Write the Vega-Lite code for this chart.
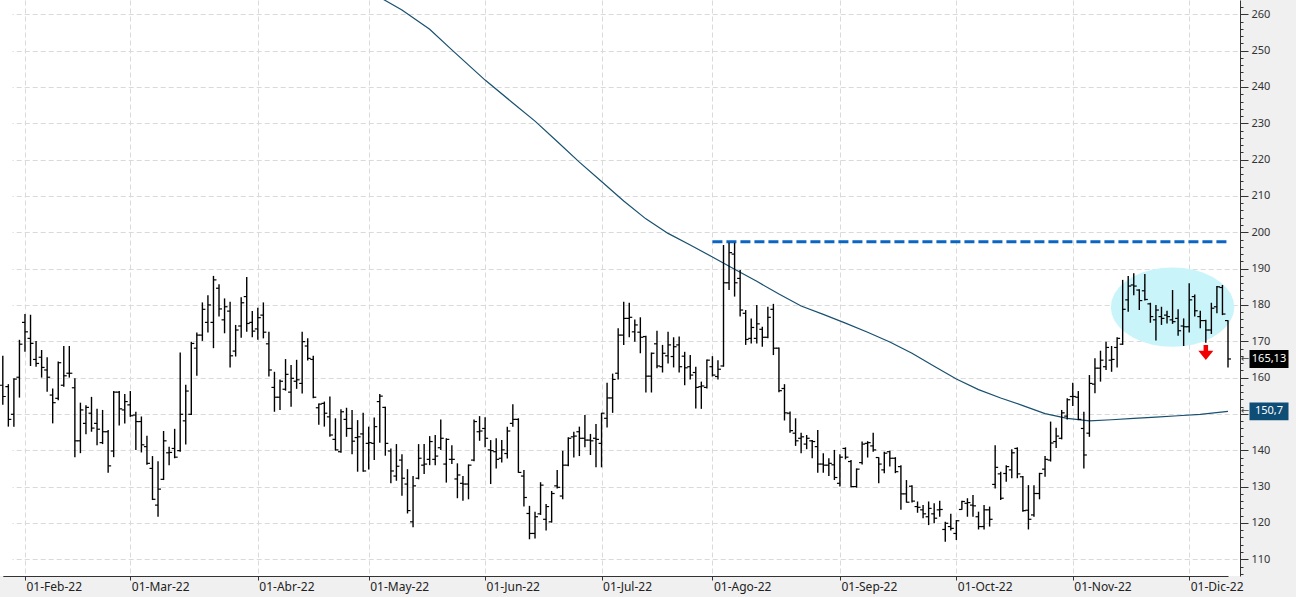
{
"$schema": "https://vega.github.io/schema/vega-lite/v6.json",
"width": 1240, "height": 576,
"autosize": {"type": "none"},
"padding": {"left": 0, "top": 0, "right": 56, "bottom": 21},
"background": "#F0F0F0",
"config": {"view": {"fill": "#FFFFFF", "stroke": null}, "font": "Noto Sans"},
"resolve": {"axis": {"y": "independent"}},
"datasets": {
"ohlc": [
{"date":"2022-01-26","open":157.9,"high":166.0,"low":152.5,"close":154.8},
{"date":"2022-01-27","open":157.5,"high":158.2,"low":146.5,"close":148.5},
{"date":"2022-01-28","open":149.9,"high":159.8,"low":146.5,"close":159.6},
{"date":"2022-01-31","open":160.1,"high":170.4,"low":154.5,"close":169.2},
{"date":"2022-02-01","open":175.2,"high":177.5,"low":167.1,"close":172.6},
{"date":"2022-02-02","open":170.8,"high":177.3,"low":163.2,"close":169.4},
{"date":"2022-02-03","open":165.0,"high":170.1,"low":163.0,"close":163.9},
{"date":"2022-02-04","open":165.6,"high":167.6,"low":160.0,"close":162.8},
{"date":"2022-02-07","open":162.1,"high":165.6,"low":156.1,"close":160.1},
{"date":"2022-02-08","open":155.2,"high":157.0,"low":147.4,"close":153.1},
{"date":"2022-02-09","open":154.3,"high":164.4,"low":153.8,"close":164.1},
{"date":"2022-02-10","open":157.9,"high":168.7,"low":157.5,"close":160.5},
{"date":"2022-02-11","open":161.2,"high":168.7,"low":160.0,"close":161.2},
{"date":"2022-02-14","open":157.2,"high":159.8,"low":138.1,"close":142.6},
{"date":"2022-02-15","open":142.6,"high":153.1,"low":139.2,"close":151.1},
{"date":"2022-02-16","open":147.4,"high":152.4,"low":144.4,"close":151.8},
{"date":"2022-02-17","open":150.2,"high":154.7,"low":145.1,"close":146.1},
{"date":"2022-02-18","open":147.4,"high":151.4,"low":141.4,"close":145.8},
{"date":"2022-02-22","open":142.1,"high":151.1,"low":141.7,"close":145.1},
{"date":"2022-02-23","open":145.1,"high":145.6,"low":133.8,"close":135.7},
{"date":"2022-02-24","open":139.8,"high":156.3,"low":138.1,"close":156.0},
{"date":"2022-02-25","open":156.0,"high":156.3,"low":146.8,"close":151.4},
{"date":"2022-02-28","open":151.1,"high":155.5,"low":147.4,"close":153.4},
{"date":"2022-03-01","open":152.5,"high":156.3,"low":149.2,"close":149.5},
{"date":"2022-03-02","open":149.7,"high":150.6,"low":140.1,"close":147.9},
{"date":"2022-03-03","open":147.9,"high":149.3,"low":139.4,"close":141.5},
{"date":"2022-03-04","open":141.0,"high":144.0,"low":136.0,"close":136.4},
{"date":"2022-03-07","open":135.0,"high":138.4,"low":126.3,"close":126.5},
{"date":"2022-03-08","open":124.9,"high":137.0,"low":121.7,"close":129.3},
{"date":"2022-03-09","open":132.0,"high":145.3,"low":131.8,"close":142.6},
{"date":"2022-03-10","open":139.3,"high":141.0,"low":135.9,"close":139.4},
{"date":"2022-03-11","open":140.5,"high":145.9,"low":137.8,"close":138.1},
{"date":"2022-03-14","open":139.9,"high":166.9,"low":139.6,"close":149.9},
{"date":"2022-03-15","open":148.1,"high":158.0,"low":141.6,"close":156.3},
{"date":"2022-03-16","open":149.9,"high":169.9,"low":149.7,"close":169.4},
{"date":"2022-03-17","open":168.1,"high":172.4,"low":160.5,"close":171.7},
{"date":"2022-03-18","open":171.7,"high":180.7,"low":170.1,"close":178.8},
{"date":"2022-03-21","open":175.2,"high":182.7,"low":172.4,"close":180.0},
{"date":"2022-03-22","open":175.2,"high":188.0,"low":168.1,"close":186.9},
{"date":"2022-03-23","open":184.6,"high":185.7,"low":176.8,"close":178.9},
{"date":"2022-03-24","open":175.9,"high":181.8,"low":172.2,"close":179.5},
{"date":"2022-03-25","open":178.3,"high":180.9,"low":162.8,"close":166.0},
{"date":"2022-03-28","open":167.3,"high":174.5,"low":165.8,"close":173.1},
{"date":"2022-03-29","open":174.2,"high":182.1,"low":171.0,"close":180.6},
{"date":"2022-03-30","open":182.3,"high":187.7,"low":172.6,"close":174.9},
{"date":"2022-03-31","open":175.2,"high":178.3,"low":171.1,"close":172.8},
{"date":"2022-04-01","open":173.4,"high":179.2,"low":170.4,"close":176.5},
{"date":"2022-04-04","open":177.2,"high":180.7,"low":170.8,"close":172.5},
{"date":"2022-04-05","open":169.3,"high":172.6,"low":160.3,"close":162.1},
{"date":"2022-04-06","open":157.3,"high":161.6,"low":150.6,"close":154.6},
{"date":"2022-04-07","open":154.6,"high":159.5,"low":151.1,"close":159.0},
{"date":"2022-04-08","open":156.8,"high":165.1,"low":156.4,"close":160.9},
{"date":"2022-04-11","open":156.0,"high":163.5,"low":152.0,"close":159.8},
{"date":"2022-04-12","open":159.0,"high":164.9,"low":156.9,"close":159.4},
{"date":"2022-04-13","open":158.4,"high":172.6,"low":155.6,"close":169.9},
{"date":"2022-04-14","open":168.7,"high":170.8,"low":164.7,"close":165.3},
{"date":"2022-04-18","open":165.0,"high":166.0,"low":154.3,"close":154.6},
{"date":"2022-04-19","open":151.7,"high":152.9,"low":147.0,"close":152.7},
{"date":"2022-04-20","open":152.9,"high":153.4,"low":146.5,"close":150.2},
{"date":"2022-04-21","open":149.2,"high":154.8,"low":143.7,"close":144.2},
{"date":"2022-04-22","open":143.0,"high":148.8,"low":139.9,"close":140.1},
{"date":"2022-04-25","open":139.6,"high":151.3,"low":139.3,"close":150.6},
{"date":"2022-04-26","open":148.5,"high":151.7,"low":143.7,"close":146.0},
{"date":"2022-04-27","open":146.0,"high":151.1,"low":138.9,"close":142.5},
{"date":"2022-04-28","open":143.5,"high":148.3,"low":134.1,"close":143.7},
{"date":"2022-04-29","open":144.5,"high":150.3,"low":134.1,"close":134.3},
{"date":"2022-05-02","open":141.9,"high":146.5,"low":134.7,"close":142.1},
{"date":"2022-05-03","open":141.9,"high":149.0,"low":137.3,"close":146.5},
{"date":"2022-05-04","open":153.4,"high":155.5,"low":142.1,"close":154.9},
{"date":"2022-05-05","open":151.8,"high":152.0,"low":138.5,"close":141.9},
{"date":"2022-05-06","open":139.8,"high":140.5,"low":130.9,"close":134.3},
{"date":"2022-05-09","open":132.9,"high":141.7,"low":131.6,"close":135.6},
{"date":"2022-05-10","open":137.3,"high":138.9,"low":127.5,"close":132.3},
{"date":"2022-05-11","open":130.7,"high":134.8,"low":122.6,"close":123.4},
{"date":"2022-05-12","open":120.3,"high":132.9,"low":118.8,"close":130.2},
{"date":"2022-05-13","open":132.3,"high":141.7,"low":132.0,"close":137.8},
{"date":"2022-05-16","open":135.9,"high":141.7,"low":133.5,"close":136.2},
{"date":"2022-05-17","open":137.5,"high":143.9,"low":135.9,"close":142.4},
{"date":"2022-05-18","open":137.5,"high":144.2,"low":135.9,"close":138.4},
{"date":"2022-05-19","open":140.7,"high":148.5,"low":140.1,"close":143.3},
{"date":"2022-05-20","open":136.2,"high":143.3,"low":131.1,"close":143.0},
{"date":"2022-05-23","open":137.5,"high":141.4,"low":136.2,"close":137.5},
{"date":"2022-05-24","open":132.1,"high":136.4,"low":126.8,"close":133.2},
{"date":"2022-05-25","open":130.9,"high":132.9,"low":126.1,"close":130.7},
{"date":"2022-05-26","open":130.7,"high":136.1,"low":126.5,"close":135.9},
{"date":"2022-05-27","open":137.3,"high":148.5,"low":137.0,"close":147.9},
{"date":"2022-05-31","open":145.1,"high":149.4,"low":142.6,"close":145.3},
{"date":"2022-06-01","open":146.0,"high":149.1,"low":140.8,"close":143.3},
{"date":"2022-06-02","open":140.1,"high":142.8,"low":130.7,"close":139.9},
{"date":"2022-06-03","open":139.6,"high":143.3,"low":135.0,"close":137.5},
{"date":"2022-06-06","open":137.8,"high":142.8,"low":136.6,"close":140.1},
{"date":"2022-06-07","open":139.1,"high":146.5,"low":137.7,"close":145.3},
{"date":"2022-06-08","open":147.4,"high":152.7,"low":146.5,"close":148.5},
{"date":"2022-06-09","open":148.5,"high":148.8,"low":133.8,"close":133.9},
{"date":"2022-06-10","open":132.9,"high":134.6,"low":124.5,"close":127.0},
{"date":"2022-06-13","open":122.6,"high":124.7,"low":115.5,"close":117.1},
{"date":"2022-06-14","open":117.1,"high":123.1,"low":115.7,"close":121.7},
{"date":"2022-06-15","open":122.5,"high":131.2,"low":122.2,"close":130.4},
{"date":"2022-06-16","open":121.0,"high":125.2,"low":117.9,"close":124.5},
{"date":"2022-06-17","open":120.3,"high":128.8,"low":120.1,"close":128.1},
{"date":"2022-06-21","open":130.2,"high":134.6,"low":129.5,"close":129.8},
{"date":"2022-06-22","open":127.4,"high":139.9,"low":126.5,"close":135.9},
{"date":"2022-06-23","open":135.9,"high":143.6,"low":135.6,"close":143.3},
{"date":"2022-06-24","open":143.7,"high":145.1,"low":138.0,"close":143.9},
{"date":"2022-06-27","open":145.1,"high":146.5,"low":138.4,"close":143.3},
{"date":"2022-06-28","open":143.3,"high":149.7,"low":140.8,"close":142.8},
{"date":"2022-06-29","open":142.8,"high":144.5,"low":138.7,"close":142.6},
{"date":"2022-06-30","open":143.3,"high":147.2,"low":135.3,"close":143.0},
{"date":"2022-07-01","open":141.9,"high":150.3,"low":135.3,"close":150.2},
{"date":"2022-07-05","open":148.8,"high":158.6,"low":146.3,"close":154.4},
{"date":"2022-07-06","open":154.4,"high":161.1,"low":150.3,"close":159.5},
{"date":"2022-07-07","open":161.2,"high":173.6,"low":159.5,"close":171.7},
{"date":"2022-07-08","open":171.7,"high":180.9,"low":169.0,"close":176.3},
{"date":"2022-07-11","open":176.3,"high":180.6,"low":171.1,"close":176.6},
{"date":"2022-07-12","open":172.6,"high":176.0,"low":169.9,"close":174.5},
{"date":"2022-07-13","open":172.5,"high":176.6,"low":166.7,"close":171.1},
{"date":"2022-07-14","open":171.3,"high":171.5,"low":155.9,"close":160.4},
{"date":"2022-07-15","open":160.4,"high":166.9,"low":155.9,"close":166.7},
{"date":"2022-07-18","open":169.3,"high":172.9,"low":162.6,"close":163.2},
{"date":"2022-07-19","open":163.0,"high":169.0,"low":161.4,"close":166.7},
{"date":"2022-07-20","open":166.0,"high":172.6,"low":163.9,"close":169.0},
{"date":"2022-07-21","open":165.8,"high":171.1,"low":162.8,"close":168.5},
{"date":"2022-07-22","open":169.0,"high":171.3,"low":161.4,"close":163.0},
{"date":"2022-07-25","open":165.9,"high":167.1,"low":157.9,"close":162.7},
{"date":"2022-07-26","open":163.0,"high":166.2,"low":159.5,"close":160.7},
{"date":"2022-07-27","open":161.4,"high":163.0,"low":151.5,"close":157.3},
{"date":"2022-07-28","open":157.5,"high":158.9,"low":151.4,"close":157.7},
{"date":"2022-07-29","open":157.3,"high":165.0,"low":157.0,"close":164.8},
{"date":"2022-08-01","open":163.0,"high":165.9,"low":160.3,"close":160.7},
{"date":"2022-08-02","open":160.3,"high":164.8,"low":159.5,"close":162.3},
{"date":"2022-08-03","open":163.2,"high":196.5,"low":163.0,"close":186.1},
{"date":"2022-08-04","open":186.1,"high":197.1,"low":184.1,"close":194.4},
{"date":"2022-08-05","open":194.0,"high":197.1,"low":182.3,"close":186.1},
{"date":"2022-08-08","open":187.3,"high":189.6,"low":176.8,"close":178.6},
{"date":"2022-08-09","open":177.7,"high":178.6,"low":169.0,"close":170.5},
{"date":"2022-08-10","open":170.8,"high":176.3,"low":169.4,"close":173.8},
{"date":"2022-08-11","open":170.8,"high":180.0,"low":169.4,"close":174.8},
{"date":"2022-08-12","open":173.3,"high":174.0,"low":168.5,"close":171.1},
{"date":"2022-08-15","open":171.1,"high":179.5,"low":170.8,"close":176.6},
{"date":"2022-08-16","open":178.8,"high":180.3,"low":166.2,"close":168.1},
{"date":"2022-08-17","open":168.1,"high":168.3,"low":156.0,"close":156.4},
{"date":"2022-08-18","open":157.0,"high":158.2,"low":148.2,"close":150.3},
{"date":"2022-08-19","open":150.2,"high":150.7,"low":144.8,"close":145.4},
{"date":"2022-08-22","open":144.7,"high":148.8,"low":141.2,"close":142.6},
{"date":"2022-08-23","open":143.3,"high":144.8,"low":139.2,"close":143.7},
{"date":"2022-08-24","open":141.7,"high":144.2,"low":140.3,"close":143.3},
{"date":"2022-08-25","open":142.6,"high":142.8,"low":137.8,"close":142.4},
{"date":"2022-08-26","open":141.0,"high":145.6,"low":133.8,"close":136.2},
{"date":"2022-08-29","open":136.2,"high":139.2,"low":133.8,"close":135.9},
{"date":"2022-08-30","open":135.9,"high":137.8,"low":132.9,"close":136.4},
{"date":"2022-08-31","open":136.0,"high":140.1,"low":131.8,"close":132.5},
{"date":"2022-09-01","open":130.9,"high":138.9,"low":130.0,"close":138.1},
{"date":"2022-09-02","open":140.5,"high":140.8,"low":137.5,"close":138.1},
{"date":"2022-09-06","open":136.9,"high":137.3,"low":129.8,"close":130.0},
{"date":"2022-09-07","open":130.0,"high":135.0,"low":129.7,"close":134.8},
{"date":"2022-09-08","open":136.6,"high":142.4,"low":136.1,"close":141.7},
{"date":"2022-09-09","open":141.9,"high":142.5,"low":138.0,"close":142.1},
{"date":"2022-09-12","open":141.2,"high":144.8,"low":139.6,"close":140.1},
{"date":"2022-09-13","open":138.0,"high":138.1,"low":130.9,"close":136.2},
{"date":"2022-09-14","open":134.6,"high":139.6,"low":133.7,"close":139.2},
{"date":"2022-09-15","open":139.6,"high":139.9,"low":135.5,"close":137.8},
{"date":"2022-09-16","open":137.8,"high":138.1,"low":133.7,"close":134.1},
{"date":"2022-09-19","open":135.5,"high":135.9,"low":123.6,"close":128.0},
{"date":"2022-09-20","open":128.0,"high":131.8,"low":125.6,"close":125.7},
{"date":"2022-09-21","open":130.1,"high":130.4,"low":125.6,"close":126.0},
{"date":"2022-09-22","open":124.5,"high":125.9,"low":122.8,"close":124.3},
{"date":"2022-09-23","open":123.6,"high":124.9,"low":121.3,"close":122.5},
{"date":"2022-09-26","open":121.7,"high":125.9,"low":119.4,"close":124.0},
{"date":"2022-09-27","open":122.5,"high":125.4,"low":119.9,"close":121.3},
{"date":"2022-09-28","open":123.6,"high":126.1,"low":121.7,"close":123.7},
{"date":"2022-09-29","open":118.2,"high":120.3,"low":114.8,"close":119.9},
{"date":"2022-09-30","open":119.0,"high":122.5,"low":117.9,"close":118.5},
{"date":"2022-10-03","open":117.1,"high":120.8,"low":115.3,"close":120.6},
{"date":"2022-10-04","open":123.7,"high":126.1,"low":123.6,"close":125.9},
{"date":"2022-10-05","open":125.4,"high":126.8,"low":121.7,"close":125.6},
{"date":"2022-10-06","open":124.9,"high":127.7,"low":121.7,"close":124.7},
{"date":"2022-10-07","open":121.7,"high":123.1,"low":118.2,"close":119.0},
{"date":"2022-10-10","open":119.0,"high":124.9,"low":118.2,"close":123.6},
{"date":"2022-10-11","open":123.6,"high":124.5,"low":119.0,"close":121.0},
{"date":"2022-10-12","open":130.6,"high":141.4,"low":129.5,"close":135.3},
{"date":"2022-10-13","open":133.5,"high":134.1,"low":126.3,"close":126.8},
{"date":"2022-10-14","open":133.6,"high":135.9,"low":131.3,"close":135.5},
{"date":"2022-10-17","open":134.6,"high":140.3,"low":132.3,"close":139.3},
{"date":"2022-10-18","open":140.5,"high":140.8,"low":132.3,"close":133.5},
{"date":"2022-10-19","open":132.7,"high":132.9,"low":123.1,"close":123.4},
{"date":"2022-10-20","open":123.5,"high":130.4,"low":118.2,"close":121.0},
{"date":"2022-10-21","open":122.2,"high":130.4,"low":121.7,"close":128.1},
{"date":"2022-10-24","open":128.1,"high":133.8,"low":126.5,"close":133.6},
{"date":"2022-10-25","open":134.8,"high":138.4,"low":132.7,"close":137.5},
{"date":"2022-10-26","open":137.3,"high":147.9,"low":136.9,"close":142.0},
{"date":"2022-10-27","open":142.4,"high":146.2,"low":140.6,"close":143.9},
{"date":"2022-10-28","open":143.3,"high":151.1,"low":143.0,"close":150.3},
{"date":"2022-10-31","open":149.4,"high":154.3,"low":148.5,"close":153.9},
{"date":"2022-11-01","open":154.8,"high":158.6,"low":152.2,"close":154.8},
{"date":"2022-11-02","open":154.6,"high":156.3,"low":148.3,"close":148.5},
{"date":"2022-11-03","open":146.0,"high":150.6,"low":135.0,"close":138.7},
{"date":"2022-11-04","open":144.7,"high":160.7,"low":143.7,"close":158.4},
{"date":"2022-11-07","open":158.2,"high":165.3,"low":155.7,"close":162.6},
{"date":"2022-11-08","open":162.6,"high":167.4,"low":158.9,"close":164.8},
{"date":"2022-11-09","open":163.0,"high":169.9,"low":162.1,"close":168.3},
{"date":"2022-11-10","open":164.8,"high":168.7,"low":161.6,"close":165.0},
{"date":"2022-11-11","open":168.3,"high":171.1,"low":162.8,"close":170.8},
{"date":"2022-11-14","open":169.2,"high":186.9,"low":169.0,"close":178.8},
{"date":"2022-11-15","open":181.4,"high":188.0,"low":178.1,"close":185.2},
{"date":"2022-11-16","open":185.5,"high":188.7,"low":182.7,"close":185.2},
{"date":"2022-11-17","open":184.1,"high":184.3,"low":178.6,"close":181.2},
{"date":"2022-11-18","open":183.9,"high":188.5,"low":181.2,"close":181.5},
{"date":"2022-11-21","open":180.3,"high":180.6,"low":175.1,"close":176.8},
{"date":"2022-11-22","open":175.9,"high":180.0,"low":170.2,"close":178.6},
{"date":"2022-11-23","open":176.8,"high":179.5,"low":174.5,"close":176.3},
{"date":"2022-11-25","open":177.2,"high":178.4,"low":174.9,"close":176.8},
{"date":"2022-11-28","open":175.9,"high":184.1,"low":174.8,"close":175.4},
{"date":"2022-11-29","open":176.3,"high":178.8,"low":171.5,"close":172.9},
{"date":"2022-11-30","open":174.2,"high":176.3,"low":168.7,"close":174.0},
{"date":"2022-12-01","open":174.0,"high":186.0,"low":172.4,"close":181.4},
{"date":"2022-12-02","open":182.3,"high":182.9,"low":176.8,"close":178.4},
{"date":"2022-12-05","open":176.8,"high":178.4,"low":173.6,"close":175.7},
{"date":"2022-12-06","open":175.7,"high":175.9,"low":169.6,"close":173.1},
{"date":"2022-12-07","open":173.1,"high":180.6,"low":172.0,"close":179.1},
{"date":"2022-12-08","open":179.5,"high":185.2,"low":177.7,"close":185.0},
{"date":"2022-12-09","open":184.8,"high":185.5,"low":177.2,"close":177.5},
{"date":"2022-12-12","open":175.7,"high":175.8,"low":162.8,"close":165.13}
],
"ma": [
{"date":"2022-05-02","ma":266.4},{"date":"2022-05-05","ma":263.8},{"date":"2022-05-10","ma":261.2},
{"date":"2022-05-17","ma":255.9},{"date":"2022-05-23","ma":250.2},{"date":"2022-06-01","ma":241.9},
{"date":"2022-06-08","ma":235.6},{"date":"2022-06-14","ma":230.6},{"date":"2022-06-21","ma":225.0},
{"date":"2022-06-27","ma":219.3},{"date":"2022-07-01","ma":214.0},{"date":"2022-07-08","ma":208.6},
{"date":"2022-07-14","ma":203.7},{"date":"2022-07-20","ma":199.7},{"date":"2022-07-26","ma":196.5},
{"date":"2022-08-01","ma":193.2},{"date":"2022-08-05","ma":189.8},{"date":"2022-08-11","ma":186.5},
{"date":"2022-08-17","ma":183.0},{"date":"2022-08-23","ma":179.7},{"date":"2022-08-29","ma":177.4},
{"date":"2022-09-02","ma":175.0},{"date":"2022-09-09","ma":172.5},{"date":"2022-09-15","ma":169.8},
{"date":"2022-09-21","ma":166.7},{"date":"2022-09-27","ma":163.1},{"date":"2022-10-03","ma":159.6},
{"date":"2022-10-07","ma":156.7},{"date":"2022-10-13","ma":154.4},{"date":"2022-10-19","ma":152.3},
{"date":"2022-10-25","ma":150.1},{"date":"2022-10-31","ma":148.8},{"date":"2022-11-04","ma":148.1},
{"date":"2022-11-10","ma":148.4},{"date":"2022-11-16","ma":148.8},{"date":"2022-11-22","ma":149.1},
{"date":"2022-11-29","ma":149.5},{"date":"2022-12-05","ma":149.9},{"date":"2022-12-12","ma":150.7}
],
"level": [{"date":"2022-08-01","level":197.4},{"date":"2022-12-12","level":197.4}],
"ellipse": [{"date":"2022-11-28","value":179.4}],
"arrow": [{"date":"2022-12-06","value":166.9}],
"tags": [
{"date":"2022-12-12","value":165.13,"label":"165,13","kind":"price"},
{"date":"2022-12-12","value":150.7,"label":"150,7","kind":"ma"}
]
},
"encoding": {
"x": {"field":"date","type":"ordinal","title":null,
"scale":{"type":"point","range":[2.8,1228],"padding":0,"round":false},
"axis":{"values":["2022-02-01","2022-03-01","2022-04-01","2022-05-02","2022-06-01","2022-07-01","2022-08-01","2022-09-01","2022-10-03","2022-11-01","2022-12-01"],
"labelExpr":"'01-' + ['Ene','Feb','Mar','Abr','May','Jun','Jul','Ago','Sep','Oct','Nov','Dic'][toNumber(substring(datum.value, 5, 7)) - 1] + '-22'",
"orient":"bottom","grid":true,"gridColor":"#DADADA","gridDash":[5,3],"domainColor":"#333333","tickColor":"#333333","tickSize":4,
"labelAlign":"left","labelBaseline":"top","labelPadding":1,"labelOffset":1,"labelFont":"Noto Sans","labelFontSize":12,"labelColor":"#222222","labelAngle":0,"labelOverlap":false,"labelFlush":false,"labelBound":false}}
},
"layer": [
{"data":{"name":"ellipse"},
"mark":{"type":"point","filled":true,"opacity":1,"strokeWidth":0,"color":"#C9F4FA","size":15228,
"shape":"M1,0 L0.985,0.112 L0.94,0.22 L0.866,0.322 L0.766,0.413 L0.643,0.493 L0.5,0.557 L0.342,0.604 L0.174,0.633 L0,0.643 L-0.174,0.633 L-0.342,0.604 L-0.5,0.557 L-0.643,0.493 L-0.766,0.413 L-0.866,0.322 L-0.94,0.22 L-0.985,0.112 L-1,0 L-0.985,-0.112 L-0.94,-0.22 L-0.866,-0.322 L-0.766,-0.413 L-0.643,-0.493 L-0.5,-0.557 L-0.342,-0.604 L-0.174,-0.633 L0,-0.643 L0.174,-0.633 L0.342,-0.604 L0.5,-0.557 L0.643,-0.493 L0.766,-0.413 L0.866,-0.322 L0.94,-0.22 L0.985,-0.112 Z"},
"encoding":{"y":{"field":"value","type":"quantitative","title":null,"scale":{"domain":[105.39,263.94],"nice":false,"zero":false},
"axis":{"orient":"right","values":[110,120,130,140,150,160,170,180,190,200,210,220,230,240,250,260],
"labelExpr":"datum.value === 150 ? '' : datum.label",
"grid":true,"gridColor":"#DADADA","gridDash":[5,3],"tickSize":8,
"tickColor":"#333333","domainColor":"#333333","labelPadding":3,"labelFont":"Noto Sans","labelFontSize":11,"labelColor":"#333333",
"labelAlign":"left","labelBaseline":"middle","labelOverlap":false,"labelBound":false,"labelFlush":false}}}},
{"data":{"name":"ma"},
"mark":{"type":"line","color":"#17506F","strokeWidth":1.2,"clip":true},
"encoding":{"y":{"field":"ma","type":"quantitative","title":null,"scale":{"domain":[105.39,263.94],"nice":false,"zero":false},
"axis":{"orient":"right","values":[106,108,112,114,116,118,122,124,126,128,132,134,136,138,142,144,146,148,152,154,156,158,162,164,166,168,172,174,176,178,182,184,186,188,192,194,196,198,202,204,206,208,212,214,216,218,222,224,226,228,232,234,236,238,242,244,246,248,252,254,256,258,262],
"grid":false,"domain":false,"labels":false,"tickSize":3,"tickColor":"#333333"}}}},
{"data":{"name":"level"},
"mark":{"type":"line","color":"#0A66C2","strokeWidth":3,"strokeDash":[10,4],"strokeCap":"butt"},
"encoding":{"y":{"field":"level","type":"quantitative","title":null,"scale":{"domain":[105.39,263.94],"nice":false,"zero":false},"axis":null}}},
{"data":{"name":"ohlc"},
"mark":{"type":"rule","color":"#000000","strokeWidth":1.4,"strokeCap":"butt"},
"encoding":{"y":{"field":"low","type":"quantitative","title":null,"scale":{"domain":[105.39,263.94],"nice":false,"zero":false},"axis":null},
"y2":{"field":"high"}}},
{"data":{"name":"ohlc"},
"mark":{"type":"tick","color":"#000000","orient":"horizontal","size":3,"thickness":1.2,"xOffset":-1.5,"opacity":1},
"encoding":{"y":{"field":"open","type":"quantitative","title":null,"scale":{"domain":[105.39,263.94],"nice":false,"zero":false},"axis":null}}},
{"data":{"name":"ohlc"},
"mark":{"type":"tick","color":"#000000","orient":"horizontal","size":3,"thickness":1.2,"xOffset":1.5,"opacity":1},
"encoding":{"y":{"field":"close","type":"quantitative","title":null,"scale":{"domain":[105.39,263.94],"nice":false,"zero":false},"axis":null}}},
{"data":{"name":"arrow"},
"mark":{"type":"point","filled":true,"opacity":1,"strokeWidth":0,"color":"#F20000","size":225,
"shape":"M-0.3,-1 L0.3,-1 L0.3,-0.25 L1,-0.25 L0,1 L-1,-0.25 L-0.3,-0.25 Z"},
"encoding":{"y":{"field":"value","type":"quantitative","title":null,"scale":{"domain":[105.39,263.94],"nice":false,"zero":false},"axis":null}}},
{"data":{"name":"tags"},
"mark":{"type":"point","filled":true,"opacity":1,"strokeWidth":0,"size":1521,"xOffset":41,"clip":false,
"shape":"M-1,-0.46 L1,-0.46 L1,0.46 L-1,0.46 Z"},
"encoding":{"y":{"field":"value","type":"quantitative","title":null,"scale":{"domain":[105.39,263.94],"nice":false,"zero":false},"axis":null},
"color":{"field":"kind","type":"nominal","scale":{"domain":["price","ma"],"range":["#000000","#0E4D76"]},"legend":null}}},
{"data":{"name":"tags"},
"mark":{"type":"text","color":"#FFFFFF","font":"Noto Sans","fontSize":11,"align":"center","baseline":"middle","xOffset":41,"clip":false},
"encoding":{"y":{"field":"value","type":"quantitative","title":null,"scale":{"domain":[105.39,263.94],"nice":false,"zero":false},"axis":null},
"text":{"field":"label"}}},
{"data":{"name":"tags"},
"mark":{"type":"text","color":"#444444","font":"DejaVu Sans","fontSize":10,"align":"center","baseline":"middle","xOffset":17,"clip":false,"text":"←"},
"encoding":{"y":{"field":"value","type":"quantitative","title":null,"scale":{"domain":[105.39,263.94],"nice":false,"zero":false},"axis":null}}}
]
}
